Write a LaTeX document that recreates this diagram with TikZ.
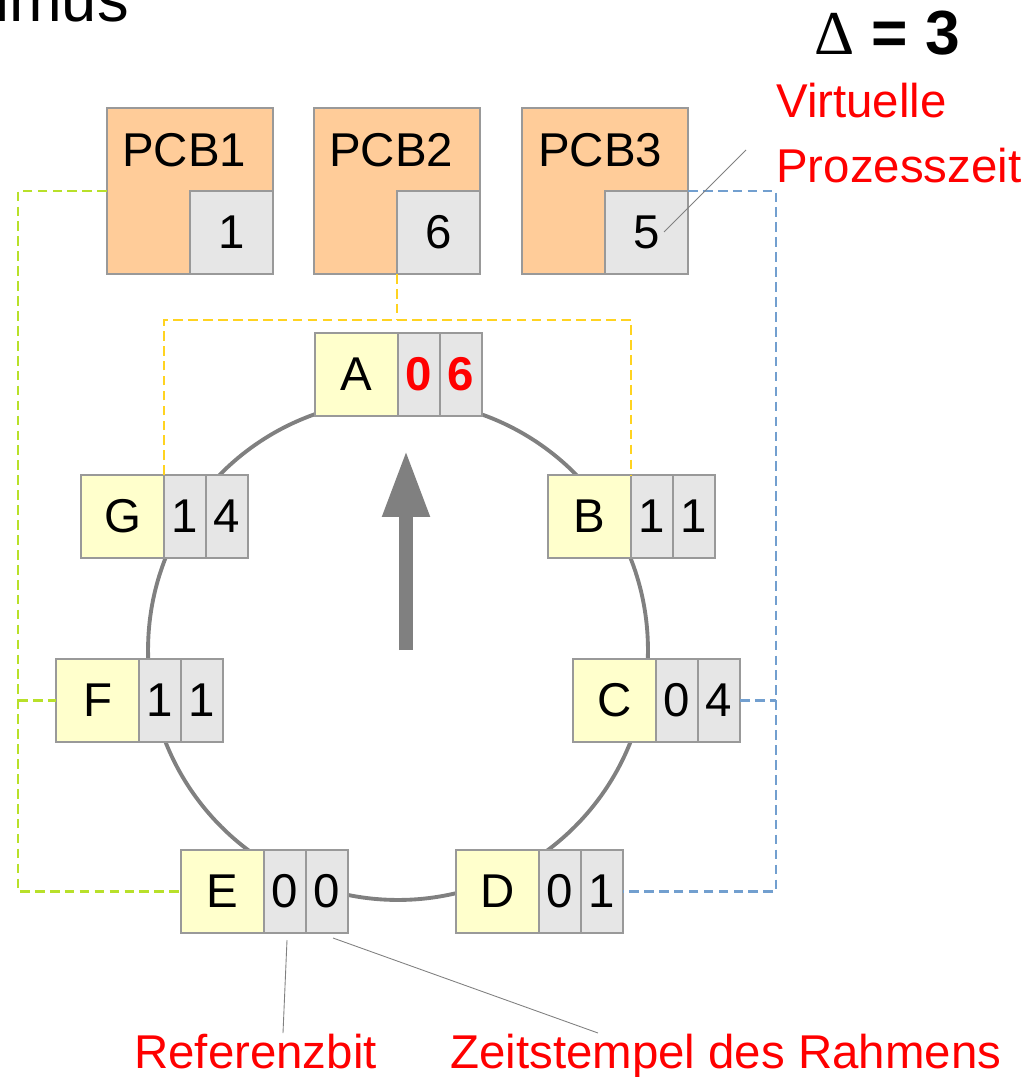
\documentclass[tikz,border=0pt]{standalone}
\usepackage{fontspec}
\setmainfont{Liberation Sans}
\newfontfamily\serifgriech{Liberation Serif}
\usepackage{xcolor}
\usepackage{tikz}
\usetikzlibrary{positioning,arrows.meta}

\definecolor{rand}{HTML}{999999}
\definecolor{gelb}{HTML}{FFFFCC}
\definecolor{grau}{HTML}{E6E6E6}
\definecolor{pfirsich}{HTML}{FFCC99}
\definecolor{ring}{HTML}{808080}
\definecolor{gruen}{HTML}{B8E02A}
\definecolor{gold}{HTML}{FFD320}
\definecolor{blau}{HTML}{729FCF}
\definecolor{rot}{HTML}{FF0000}
\newcommand{\gross}{\fontsize{27}{36.9}\selectfont}

\begin{document}
\begin{tikzpicture}[x=0.02cm, y=-0.02cm,
  rahmen/.style={draw=rand, fill=gelb, line width=0.8pt, minimum width=1.66cm, minimum height=1.66cm, inner sep=0pt, outer sep=0pt, anchor=north west, font=\gross},
  bit/.style={draw=rand, fill=grau, line width=0.8pt, minimum width=0.84cm, minimum height=1.66cm, inner sep=0pt, outer sep=0pt, font=\gross},
  pcb/.style={draw=rand, fill=pfirsich, line width=0.8pt, minimum size=3.32cm, inner sep=0pt, outer sep=0pt, anchor=north west},
  wert/.style={bit, minimum width=1.66cm, anchor=south east},
  gruenstrich/.style={draw=gruen, line width=1.5pt, dash pattern=on 5.5pt off 3pt},
  goldstrich/.style={draw=gold, line width=1.5pt, dash pattern=on 5.5pt off 3pt},
  blaustrich/.style={draw=blau, line width=1.5pt, dash pattern=on 5.5pt off 3pt},
  zeiger/.style={draw=ring, line width=0.5pt},
  beschriftung/.style={anchor=base west, text=rot, font=\gross}]
\useasboundingbox (0,0) rectangle (1027,1077);

% Uhr
\draw[draw=ring, line width=2.2pt] (398,650) circle[radius=5cm];

% Seitenrahmen
\node[rahmen] (A) at (315,333) {A};
\node[bit, right=0pt of A, text=rot, font=\gross\bfseries] (A1) {0};
\node[bit, right=0pt of A1, text=rot, font=\gross\bfseries] (A2) {6};
\node[rahmen] (B) at (548,475) {B};
\node[bit, right=0pt of B] (B1) {1};
\node[bit, right=0pt of B1] (B2) {1};
\node[rahmen] (C) at (573,659) {C};
\node[bit, right=0pt of C] (C1) {0};
\node[bit, right=0pt of C1] (C2) {4};
\node[rahmen] (D) at (456,850) {D};
\node[bit, right=0pt of D] (D1) {0};
\node[bit, right=0pt of D1] (D2) {1};
\node[rahmen] (E) at (181,850) {E};
\node[bit, right=0pt of E] (E1) {0};
\node[bit, right=0pt of E1] (E2) {0};
\node[rahmen] (F) at (56,659) {F};
\node[bit, right=0pt of F] (F1) {1};
\node[bit, right=0pt of F1] (F2) {1};
\node[rahmen] (G) at (81,475) {G};
\node[bit, right=0pt of G] (G1) {1};
\node[bit, right=0pt of G1] (G2) {4};

% PCBs
\node[pcb] (P1) at (107,108) {};
\node[wert] (P1v) at (P1.south east) {1};
\node[anchor=base west, font=\gross] (P1name) at (116,167) {PCB1};
\node[pcb] (P2) at (314,108) {};
\node[wert] (P2v) at (P2.south east) {6};
\node[anchor=base west, font=\gross] (P2name) at (323,167) {PCB2};
\node[pcb] (P3) at (522,108) {};
\node[wert] (P3v) at (P3.south east) {5};
\node[anchor=base west, font=\gross] (P3name) at (532,167) {PCB3};

% Zuordnung
\coordinate (gx) at (18,0);
\coordinate (gy) at (0,320);
\coordinate (bx) at (776,0);
\draw[gruenstrich] (P1.west) -- (P1.west -| gx) -- (gx |- E.west) -- (E.west);
\draw[gruenstrich] (F.west -| gx) -- (F.west);
\draw[goldstrich] (P2v.south west) -- (P2v.south west |- gy);
\draw[goldstrich] (G.north east) -- (G.north east |- gy) -- (B.north east |- gy) -- (B.north east);
\draw[blaustrich] (P3.east) -- (P3.east -| bx) -- (bx |- D2.east) -- (D2.east);
\draw[blaustrich] (C2.east) -- (C2.east -| bx);

% Zeiger
\coordinate (z0) at (406,650);
\coordinate (z1) at (406,450);
\draw[draw=ring, line width=0.28cm, -{Triangle[length=1.34cm, width=0.88cm]}] (z0) -- (z1);

% Texte
\node[anchor=base east, font=\fontsize{36}{42}\selectfont] (titel) at (135,22) {imus};
\node[anchor=base west, font=\fontsize{35.5}{42}\selectfont\bfseries] (delta) at (808,55) {{\serifgriech\mdseries Δ} = 3};
\node[anchor=north west, align=left, text=rot, font=\gross] (virt) at (770,77) {Virtuelle\\Prozesszeit};
\node[beschriftung] (refbit) at (128,1068) {Referenzbit};
\node[beschriftung] (zeit) at (444,1068) {Zeitstempel des Rahmens};

\coordinate (v0) at (664,232);
\coordinate (v1) at (746,150);
\coordinate (r0) at (287,940);
\coordinate (r1) at (283,1033);
\coordinate (t0) at (333,938);
\coordinate (t1) at (598,1033);
\draw[zeiger] (v0) -- (v1);
\draw[zeiger] (r0) -- (r1);
\draw[zeiger] (t0) -- (t1);
\end{tikzpicture}
\end{document}
